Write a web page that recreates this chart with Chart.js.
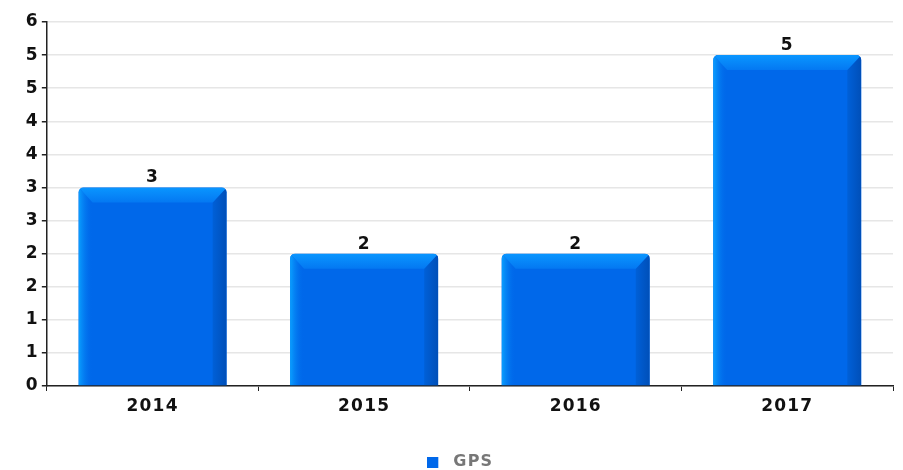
<!DOCTYPE html>
<html>
<head>
<meta charset="utf-8">
<script src="https://cdn.jsdelivr.net/npm/chart.js@4"></script>
<style>
  html, body { margin: 0; padding: 0; background: #fff; }
  #wrap { width: 903px; height: 470px; }
</style>
</head>
<body>
<div id="wrap"><canvas id="chart" width="903" height="470"></canvas></div>
<script>
// chart data
const years = ["2014", "2015", "2016", "2017"];
const gpsValues = [3, 2, 2, 5];
const yMax = 5.5;
const yStep = 0.5;
const barColor = "#0068ea";

// legend marker: small square sitting on the left of a wider image,
// so there's more room between the square and the text
const marker = document.createElement("canvas");
marker.width = 18;
marker.height = 11;
const mctx = marker.getContext("2d");
mctx.fillStyle = barColor;
mctx.fillRect(0, 0, 11, 11);

// the reference text is a bit wider than plain DejaVu Bold
const wideText = {
    id: "wideText",
    beforeDraw(chart) { chart.ctx.letterSpacing = "1.2px"; }
};

// draws the bevelled "3d" look on each bar plus the value on top
const bevelBars = {
    id: "bevelBars",
    afterDatasetsDraw(chart) {
        const ctx = chart.ctx;
        const meta = chart.getDatasetMeta(0);
        meta.data.forEach((bar, i) => {
            const p = bar.getProps(["x", "y", "base", "width"], true);
            const x0 = p.x - p.width / 2, x1 = p.x + p.width / 2;
            const t = p.y, b = p.base;
            const side = 14, cap = 15;

            ctx.save();
            ctx.beginPath();
            ctx.roundRect(x0, t, p.width, b - t, [5, 5, 0, 0]);
            ctx.clip();

            // left light edge
            let g = ctx.createLinearGradient(x0, 0, x0 + side, 0);
            g.addColorStop(0, "#0aa0ff");
            g.addColorStop(1, "rgba(0,104,234,0)");
            ctx.fillStyle = g;
            ctx.beginPath();
            ctx.moveTo(x0, t);
            ctx.lineTo(x0 + side, t + cap);
            ctx.lineTo(x0 + side, b);
            ctx.lineTo(x0, b);
            ctx.closePath();
            ctx.fill();

            // right dark edge
            g = ctx.createLinearGradient(x1 - side, 0, x1, 0);
            g.addColorStop(0, "#0060d8");
            g.addColorStop(1, "#004fb8");
            ctx.fillStyle = g;
            ctx.beginPath();
            ctx.moveTo(x1, t);
            ctx.lineTo(x1, b);
            ctx.lineTo(x1 - side, b);
            ctx.lineTo(x1 - side, t + cap);
            ctx.closePath();
            ctx.fill();

            // top light cap
            g = ctx.createLinearGradient(0, t, 0, t + cap);
            g.addColorStop(0, "#0a96ff");
            g.addColorStop(1, "#0478f2");
            ctx.fillStyle = g;
            ctx.beginPath();
            ctx.moveTo(x0, t);
            ctx.lineTo(x1, t);
            ctx.lineTo(x1 - side, t + cap);
            ctx.lineTo(x0 + side, t + cap);
            ctx.closePath();
            ctx.fill();
            ctx.restore();

            // value label
            ctx.save();
            ctx.font = "bold 17px 'DejaVu Sans'";
            ctx.fillStyle = "#111";
            ctx.textAlign = "center";
            ctx.textBaseline = "bottom";
            ctx.fillText(String(gpsValues[i]), p.x, t - 1);
            ctx.restore();
        });
    }
};

const ctx = document.getElementById("chart").getContext("2d");
new Chart(ctx, {
    type: "bar",
    data: {
        labels: years,
        datasets: [{
            label: "GPS",
            data: gpsValues,
            backgroundColor: barColor,
            borderWidth: 0,
            borderRadius: { topLeft: 5, topRight: 5 },
            borderSkipped: "bottom",
            barPercentage: 0.7,
            categoryPercentage: 1,
            pointStyle: marker
        }]
    },
    options: {
        responsive: false,
        animation: false,
        // legend adds 10px of empty space under itself; pull it back
        layout: { padding: { top: 22, right: 10, left: 24, bottom: -10 } },
        plugins: {
            tooltip: { enabled: false },
            legend: {
                display: true,
                position: "bottom",
                labels: {
                    usePointStyle: true,
                    pointStyleWidth: 18,
                    boxHeight: 11,
                    padding: 0,
                    color: "#777",
                    font: { family: "'DejaVu Sans'", size: 16, weight: "bold", lineHeight: 1 }
                }
            }
        },
        scales: {
            x: {
                grid: {
                    drawOnChartArea: false,
                    tickColor: "#222",
                    tickLength: 5,
                    offset: true
                },
                border: { color: "#222", width: 1.5 },
                ticks: {
                    color: "#111",
                    padding: 5,
                    font: { family: "'DejaVu Sans'", size: 17, weight: "bold" }
                },
                afterFit(scale) { scale.height = 68; }
            },
            y: {
                min: 0,
                max: yMax,
                grid: { color: "#e6e6e6", lineWidth: 1.5, tickColor: "#222", tickLength: 5 },
                border: { color: "#222", width: 1.5 },
                ticks: {
                    stepSize: yStep,
                    color: "#111",
                    padding: 3,
                    font: { family: "'DejaVu Sans'", size: 17, weight: "bold" },
                    callback: (v) => Math.round(v)
                }
            }
        }
    },
    plugins: [wideText, bevelBars]
});
</script>
</body>
</html>
